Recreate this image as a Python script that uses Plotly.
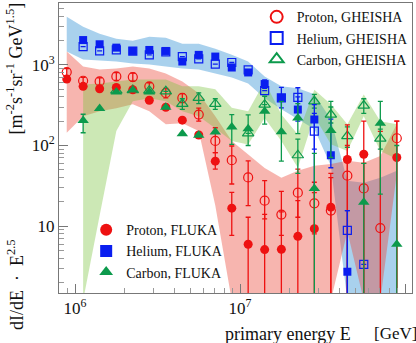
import plotly.graph_objects as go

# primary energy bin centres [GeV]
energy = [8.91e5, 1.12e6, 1.41e6, 1.78e6, 2.24e6, 2.82e6, 3.55e6, 4.47e6, 5.62e6, 7.08e6,
          8.91e6, 1.12e7, 1.41e7, 1.78e7, 2.24e7, 2.82e7, 3.55e7, 4.47e7, 5.62e7, 7.08e7, 8.91e7]

# FLUKA (filled markers)
p_fluka = [666, 541, 506, 525, 492, 364, 298, 206, 135, 63.9, 16.7, 5.96, 5.12, 5.16, 7.47, 9.29, 17.2, 67, 78, None, 71]
p_fluka_hi = [None]*9 + [81.5, 26.2, 12.9, 14, 15, 20.7, 26, 40, 180, 200, None, 200]
p_fluka_lo = [None]*9 + [51, 7.7, 0.1, 0.1, 0.1, 0.1, 0.1, 0.1, 0.1, 0.1, None, 0.1]

he_fluka = [None, 2030, 1800, 1635, 1487, 1530, 1487, 1100, 1330, 1267, 927, 805, 578, 389, 279, 210, 75.7, 2.72, None, None, None]
he_fluka_hi = [None]*12 + [650, 525, 400, 321, 212, 15.6, None, None, None]
he_fluka_lo = [None]*12 + [510, 292, 200, 30, 53, 0.1, None, None, None]

c_fluka = [None, 204, 287, 460, 487, 460, 299, 140, 134, 147, 169, 161, 266, 148, 220, 29.4, 154, None, 19.8, 189, 5.96]
c_fluka_hi = [None, 244] + [None]*8 + [242, 240, 408, 353, 330, 80, 353, None, 60, 353, 100]
c_fluka_lo = [None, 144] + [None]*8 + [103, 100, 184, 64, 140, 0.1, 71, None, 0.1, 25, 0.1]

# GHEISHA (open markers)
p_gh = [813, 635, 623, 718, 705, 541, 448, 389, 242, 114, 65.8, 40.2, 20.7, 13.9, 26, 19.2, 15.6, 42.2, 29.4, 9.46, 123]
p_gh_hi = [900, 700, 690, 800, 790, 600, 510, 440, 290, 166, 98.6, 64.4, 36.6, 27, 51, 35, 45, 100, 60, 150, 200]
p_gh_lo = [730, 570, 560, 640, 630, 480, 390, 340, 200, 81.5, 33.3, 18, 12.3, 7.7, 12.9, 8, 0.1, 0.1, 0.1, 0.1, 0.1]

he_gh = [None, 1683, 1487, 1530, 1480, 1328, 1450, 1267, 1186, 1019, 1069, 868, 479, 389, 396, 151, None, 8.85, 3.35, None, None]
he_gh_hi = [None]*14 + [520, 250, None, 15.6, None, None, None]
he_gh_lo = [None]*14 + [290, 90, None, 0.1, None, None, None]

c_gh = [None, None, None, 478, 487, 478, 470, 328, 389, 328, None, 141, 321, None, 75.7, 353, 242, 131, 313, 122, None]
c_gh_hi = [None]*7 + [380, 450, 380, None, None, None, None, 120, 430, 300, 170, 380, 160, None]
c_gh_lo = [None]*7 + [280, 330, 280, None, None, None, None, 45, 290, 190, 95, 250, 90, None]

# systematic bands
p_band_up = [1460, 952, 875, 900, 952, 900, 782, 622, 444, 231, 114, 78.5, 52.7, 39.8, 48.5, 56, 59, 64.6, 60.9, 74.3, 184]
p_band_lo = [144, 231, 266, 290, 324, 266, 184, 189, 151, 18, 1.2, 1.2, 1.2, 1.2, 1.2, 1.2, 1.2, 8.6, 1.2, 1.2, 44.6]

he_band_up = [3936, 2965, 2428, 2107, 1990, 2230, 2165, 1828, 1828, 1585, 1339, 1099, 718, 541, 511, 431, 211, 36.6, 34.5, 39.8, 48.5]
he_band_lo = [1459, 1162, 1129, 1098, 1037, 1008, 953, 900, 875, 781, 698, 589, 385, 282, 212, 160, 56, 1.2, 0.1, 0.1, 0.1]

c_band_up = [None, 572, 588, 622, 659, 659, 659, 541, 541, 497, 293, 266, 622, 242, 137, 492, 324, 184, 430, 200, 184]
c_band_lo = [None, 1.2, 13.6, 151, 353, 385, 353, 266, 230, 164, 114, 103, 220, 114, 53, 231, 104, 85.5, 230, 85.5, 68]

RED = '#ee1111'
BLUE = '#0a1ef0'
GREEN = '#0c9a4c'
SERIF = 'Liberation Serif'


def band(up, lo, color):
    xs = [e for e, u in zip(energy, up) if u is not None]
    u = [v for v in up if v is not None]
    l = [v for v in lo if v is not None]
    return go.Scatter(x=xs + xs[::-1], y=u + l[::-1], fill='toself', fillcolor=color,
                      mode='lines', line=dict(width=0), hoverinfo='skip', showlegend=False)


def errs(y, hi, lo):
    plus, minus = [], []
    for v, h, l in zip(y, hi, lo):
        if v is None or h is None:
            plus.append(None)
            minus.append(None)
        else:
            plus.append(h - v)
            minus.append(v - l)
    return plus, minus


def series(name, y, hi, lo, symbol, size, color, legend, lw=0):
    plus, minus = errs(y, hi, lo)
    return go.Scatter(
        x=energy, y=y, mode='markers', name=name, legend=legend,
        marker=dict(symbol=symbol, size=size, color=color, line=dict(width=lw, color=color)),
        error_y=dict(type='data', array=plus, arrayminus=minus, symmetric=False,
                     color=color, thickness=1.3, width=2.5),
    )


fig = go.Figure()
fig.add_trace(band(he_band_up, he_band_lo, 'rgba(40,140,210,0.40)'))
fig.add_trace(band(p_band_up, p_band_lo, 'rgba(235,70,55,0.40)'))
fig.add_trace(band(c_band_up, c_band_lo, 'rgba(120,195,60,0.38)'))

fig.add_trace(series('Proton, GHEISHA', p_gh, p_gh_hi, p_gh_lo, 'circle-open', 9, RED, 'legend', 1.2))
fig.add_trace(series('Helium, GHEISHA', he_gh, he_gh_hi, he_gh_lo, 'square-open', 8, BLUE, 'legend', 1.2))
fig.add_trace(series('Carbon, GHEISHA', c_gh, c_gh_hi, c_gh_lo, 'triangle-up-open', 10, GREEN, 'legend', 1.2))
fig.add_trace(series('Proton, FLUKA', p_fluka, p_fluka_hi, p_fluka_lo, 'circle', 9, RED, 'legend2'))
fig.add_trace(series('Helium, FLUKA', he_fluka, he_fluka_hi, he_fluka_lo, 'square', 8, BLUE, 'legend2'))
fig.add_trace(series('Carbon, FLUKA', c_fluka, c_fluka_hi, c_fluka_lo, 'triangle-up', 10, GREEN, 'legend2'))

x_minor = [m * 10**k for k in (5, 6, 7) for m in range(2, 10)]
y_minor = [m * 10**k for k in (0, 1, 2, 3) for m in range(2, 10)]

fig.update_xaxes(
    type='log', range=[5.903, 8.042],
    tickvals=[1e6, 1e7, 1e8],
    ticktext=['10<sup>6</sup>', '10<sup>7</sup>', '10<sup>8</sup>'],
    ticks='inside', ticklen=9, tickcolor='#777', showgrid=False, zeroline=False,
    showline=True, linecolor='#777', linewidth=1, mirror=True,
    minor=dict(tickvals=x_minor, ticks='inside', ticklen=5, tickcolor='#999', showgrid=False),
    tickfont=dict(family=SERIF, size=17, color='#111'),
)
fig.update_yaxes(
    type='log', range=[0.171, 3.767],
    tickvals=[10, 100, 1000],
    ticktext=['10', '10<sup>2</sup>', '10<sup>3</sup>'],
    ticks='inside', ticklen=9, tickcolor='#777', showgrid=False, zeroline=False,
    showline=True, linecolor='#777', linewidth=1, mirror=True,
    minor=dict(tickvals=y_minor, ticks='inside', ticklen=5, tickcolor='#999', showgrid=False),
    tickfont=dict(family=SERIF, size=17, color='#111'),
)

legend_font = dict(family=SERIF, size=14, color='#111')
fig.update_layout(
    width=416, height=343,
    margin=dict(l=59, r=4, t=1, b=50),
    paper_bgcolor='white', plot_bgcolor='white',
    legend=dict(x=0.56, y=1.006, xanchor='left', yanchor='top', font=legend_font,
                bgcolor='rgba(0,0,0,0)', itemsizing='constant', tracegroupgap=0),
    legend2=dict(x=0.077, y=0.272, xanchor='left', yanchor='top', font=legend_font,
                 bgcolor='rgba(0,0,0,0)', itemsizing='constant', tracegroupgap=0),
    annotations=[
        dict(text='dI/dE  ·  E<sup>2.5</sup>', textangle=-90, xref='paper', yref='paper',
             x=-0.1246, y=0.0274, xanchor='center', yanchor='middle', showarrow=False,
             font=dict(family=SERIF, size=18, color='#111')),
        dict(text='[m<sup>-2</sup>s<sup>-1</sup>sr<sup>-1</sup> GeV<sup>1.5</sup>]', textangle=-90,
             xref='paper', yref='paper', x=-0.1246, y=0.774, xanchor='center', yanchor='middle',
             showarrow=False, font=dict(family=SERIF, size=18, color='#111')),
        dict(text='primary energy E', xref='paper', yref='paper', x=0.833, y=-0.14,
             xanchor='right', yanchor='middle', showarrow=False,
             font=dict(family=SERIF, size=18, color='#111')),
        dict(text='[GeV]', xref='paper', yref='paper', x=1.02, y=-0.14,
             xanchor='right', yanchor='middle', showarrow=False,
             font=dict(family=SERIF, size=17, color='#111')),
    ],
)

# the page body has a default 8px margin; drop it so the figure sits at the window corner
fig.write_html('out.html', config={'displayModeBar': False},
               post_script="document.body.style.margin='0px';")
